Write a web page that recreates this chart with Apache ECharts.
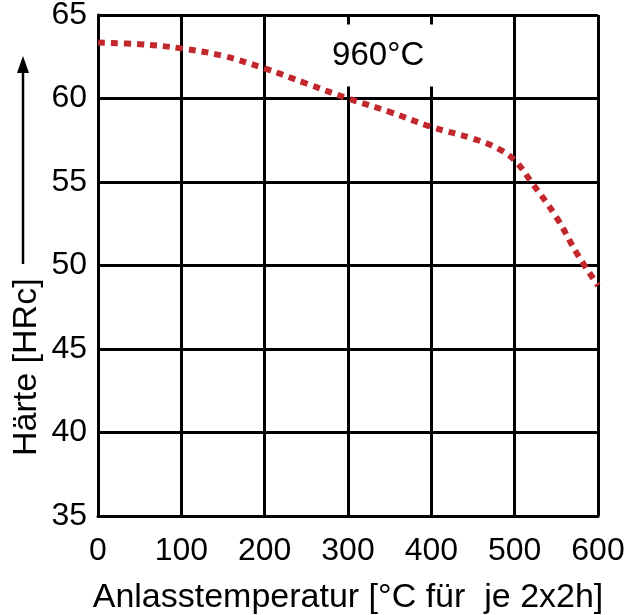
<!DOCTYPE html>
<html>
<head>
<meta charset="utf-8">
<script src="https://cdn.jsdelivr.net/npm/echarts@6/dist/echarts.min.js"></script>
<style>
  html, body { margin: 0; padding: 0; background: #fff; }
  #main { width: 631px; height: 615px; }
</style>
</head>
<body>
<div id="main"></div>
<script>
  // Anlasstemperatur [°C] und Härte [HRc]
  var temps = [0, 50, 100, 150, 200, 250, 300, 350, 400, 450, 480, 500, 520, 550, 575, 600];
  var haerte = [63.35, 63.25, 63.0, 62.55, 61.8, 60.9, 60.0, 59.2, 58.3, 57.6, 57.0, 56.3, 55.0, 52.9, 50.7, 48.8];
  var xTicks = [0, 100, 200, 300, 400, 500, 600];
  var yTicks = [35, 40, 45, 50, 55, 60, 65];
  var label960 = '960°C';

  var chart = echarts.init(document.getElementById('main'));

  var font = '"Liberation Sans", Arial, sans-serif';
  var gridLine = { show: true, lineStyle: { color: '#000', width: 3 } };

  var points = temps.map(function (t, i) { return [t, haerte[i]]; });

  var option = {
    animation: false,
    backgroundColor: '#fff',
    grid: { left: 98, right: 33, top: 15, bottom: 99, outerBoundsMode: 'none' },
    xAxis: {
      type: 'value',
      min: xTicks[0],
      max: xTicks[xTicks.length - 1],
      interval: 100,
      name: 'Anlasstemperatur [°C für  je 2x2h]',
      nameLocation: 'middle',
      nameGap: 65,
      nameTextStyle: { color: '#000', fontSize: 34, fontFamily: font },
      axisLine: { lineStyle: { color: '#000', width: 3 } },
      axisTick: { show: false },
      axisLabel: { color: '#000', fontSize: 32, fontFamily: font, margin: 19 },
      splitLine: gridLine
    },
    yAxis: {
      type: 'value',
      min: yTicks[0],
      max: yTicks[yTicks.length - 1],
      interval: 5,
      axisLine: { lineStyle: { color: '#000', width: 3 } },
      axisTick: { show: false },
      axisLabel: { color: '#000', fontSize: 32, fontFamily: font, margin: 11 },
      splitLine: gridLine
    },
    graphic: [
      {
        type: 'text',
        x: 27, y: 456,
        rotation: Math.PI / 2,
        style: { text: 'Härte [HRc]', fontSize: 34, fontFamily: font, fill: '#000', textAlign: 'left', textVerticalAlign: 'middle' }
      },
      // Pfeil neben der Achsenbeschriftung
      { type: 'line', shape: { x1: 23, y1: 264, x2: 23, y2: 70 }, style: { stroke: '#000', lineWidth: 2.5 } },
      { type: 'polygon', shape: { points: [[23, 56], [17, 73], [29, 73]] }, style: { fill: '#000' } }
    ],
    series: [{
      type: 'line',
      data: points,
      smooth: 0.4,
      symbol: 'none',
      lineStyle: { color: '#c1272d', width: 6, type: [7, 6], cap: 'butt' },
      markPoint: {
        symbol: 'rect',
        symbolSize: 0,
        data: [{ coord: [341, 62.57], value: label960 }],
        label: {
          show: true,
          position: 'inside',
          formatter: label960,
          color: '#000',
          fontSize: 33,
          fontFamily: font,
          backgroundColor: '#fff',
          padding: [14, 10, 15, 2]
        }
      }
    }]
  };

  chart.setOption(option);
</script>
</body>
</html>
